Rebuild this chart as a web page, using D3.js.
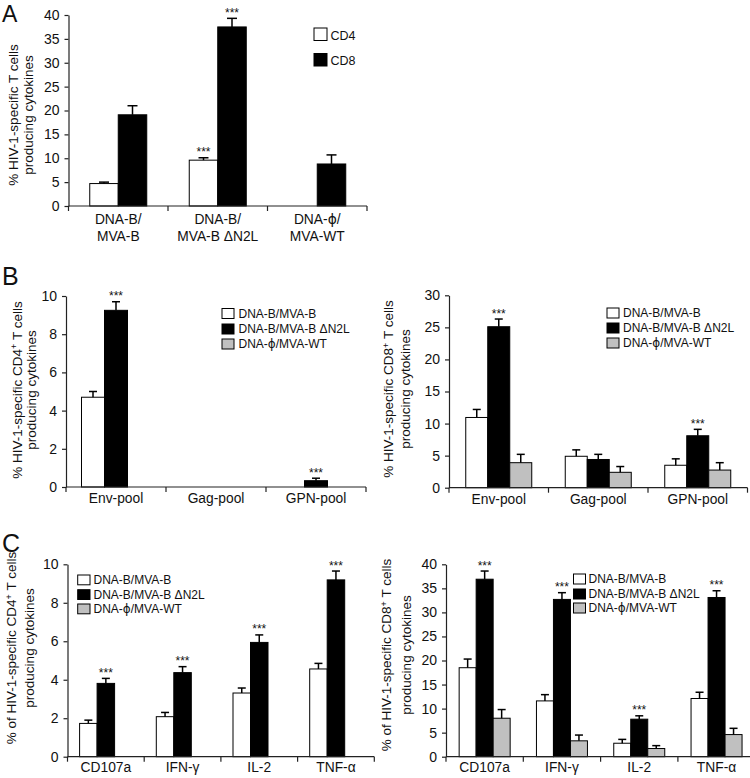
<!DOCTYPE html>
<html><head><meta charset="utf-8">
<script src="https://cdn.jsdelivr.net/npm/d3@7"></script>
<style>
body{margin:0;background:#fff}
svg{display:block}
text{font-family:"Liberation Sans",Arial,Helvetica,sans-serif;fill:#111}
tspan.phi{font-family:"DejaVu Sans",sans-serif}
</style>
</head><body>
<svg id="chart" width="750" height="778"></svg>
<script>
// ---------------- DATA ----------------
const seriesA = ["CD4", "CD8"];
const series3 = ["DNA-B/MVA-B", "DNA-B/MVA-B \u0394N2L", "DNA-\u03d5/MVA-WT"];

// Panel A
const catsA = [["DNA-B/", "MVA-B"], ["DNA-B/", "MVA-B \u0394N2L"], ["DNA-\u03d5/", "MVA-WT"]];
const aCD4 = [4.7, 9.6, null];
const aCD4Err = [0.3, 0.5, null];
const aCD8 = [19.1, 37.5, 8.8];
const aCD8Err = [1.9, 1.8, 1.9];
const aTicks = [0, 5, 10, 15, 20, 25, 30, 35, 40];
const aStars = [[0, 1], [1, 1]];

// Panel B
const catsB = [["Env-pool"], ["Gag-pool"], ["GPN-pool"]];
const bL1 = [4.7, null, null];   const bL1Err = [0.3, null, null];
const bL2 = [9.25, null, 0.33];  const bL2Err = [0.45, null, 0.13];
const bL3 = [null, null, null];  const bL3Err = [null, null, null];
const bLTicks = [0, 2, 4, 6, 8, 10];
const bLStars = [[1, 0], [1, 2]];

const bR1 = [10.95, 4.9, 3.5];   const bR1Err = [1.25, 1.0, 1.0];
const bR2 = [25.1, 4.4, 8.1];    const bR2Err = [1.2, 0.8, 1.0];
const bR3 = [3.9, 2.4, 2.75];    const bR3Err = [1.3, 0.9, 1.15];
const bRTicks = [0, 5, 10, 15, 20, 25, 30];
const bRStars = [[1, 0], [1, 2]];

// Panel C
const catsC = [["CD107a"], ["IFN-\u03b3"], ["IL-2"], ["TNF-\u03b1"]];
const cL1 = [1.73, 2.08, 3.31, 4.56];  const cL1Err = [0.17, 0.22, 0.26, 0.29];
const cL2 = [3.81, 4.37, 5.94, 9.19];  const cL2Err = [0.26, 0.31, 0.39, 0.46];
const cL3 = [null, null, null, null];  const cL3Err = [null, null, null, null];
const cLTicks = [0, 2, 4, 6, 8, 10];
const cLStars = [[1, 0], [1, 1], [1, 2], [1, 3]];

const cR1 = [18.5, 11.6, 2.8, 12.1];   const cR1Err = [1.8, 1.3, 0.8, 1.3];
const cR2 = [36.9, 32.7, 7.8, 33.1];   const cR2Err = [1.7, 1.4, 0.7, 1.4];
const cR3 = [8.0, 3.3, 1.7, 4.6];      const cR3Err = [1.8, 1.2, 0.6, 1.3];
const cRTicks = [0, 5, 10, 15, 20, 25, 30, 35, 40];
const cRStars = [[1, 0], [1, 1], [1, 2], [1, 3]];

const fills2 = ["#ffffff", "#000000"];
const fills3 = ["#ffffff", "#000000", "#c0c0c0"];

// ---------------- DRAW ----------------
const svg = d3.select("#chart");

// write a string into a text/tspan, rendering the phi glyph with DejaVu Sans
function writeText(sel, str) {
  const parts = str.split("\u03d5");
  parts.forEach((p, i) => {
    if (i > 0) sel.append("tspan").attr("class", "phi").text("\u03d5");
    if (p.length) sel.append("tspan").text(p);
  });
}

function drawPanel(cfg) {
  const g = svg.append("g");
  const x = d3.scaleBand().domain(cfg.cats.map((d, i) => i)).range([cfg.x0, cfg.x1]).padding(0);
  const y = d3.scaleLinear().domain([0, d3.max(cfg.ticks)]).range([cfg.yb, cfg.yt]);
  const n = cfg.values.length;
  const bw = cfg.barW;
  const barX = (s, c) => x(c) + x.bandwidth() / 2 + (s - n / 2) * bw;

  // bars
  const bars = [];
  cfg.values.forEach((vals, s) => vals.forEach((v, c) => {
    if (v != null) bars.push({ s, c, v, e: cfg.errs[s][c] });
  }));
  g.selectAll("rect.bar").data(bars).enter().append("rect")
    .attr("x", d => barX(d.s, d.c)).attr("width", bw)
    .attr("y", d => y(d.v)).attr("height", d => y(0) - y(d.v))
    .attr("fill", d => cfg.fills[d.s]).attr("stroke", "#000").attr("stroke-width", 1);

  // error bars (upper only)
  const eb = g.selectAll("g.err").data(bars.filter(d => d.e != null)).enter().append("g");
  eb.append("line")
    .attr("x1", d => barX(d.s, d.c) + bw / 2).attr("x2", d => barX(d.s, d.c) + bw / 2)
    .attr("y1", d => y(d.v)).attr("y2", d => y(d.v + d.e))
    .attr("stroke", "#000").attr("stroke-width", 1.5);
  eb.append("line")
    .attr("x1", d => barX(d.s, d.c) + bw / 2 - cfg.capW / 2).attr("x2", d => barX(d.s, d.c) + bw / 2 + cfg.capW / 2)
    .attr("y1", d => y(d.v + d.e)).attr("y2", d => y(d.v + d.e))
    .attr("stroke", "#000").attr("stroke-width", 1.5);

  // stars
  g.selectAll("text.star").data(cfg.stars).enter().append("text")
    .attr("x", d => barX(d[0], d[1]) + bw / 2)
    .attr("y", d => y(cfg.values[d[0]][d[1]] + cfg.errs[d[0]][d[1]]) - 1.5)
    .attr("text-anchor", "middle").style("font-size", "12px").text("***");

  // y axis
  const ya = g.append("g").attr("transform", `translate(${cfg.x0},0)`)
    .call(d3.axisLeft(y).tickValues(cfg.ticks).tickSize(4).tickSizeOuter(0).tickPadding(5).tickFormat(d3.format("d")));
  ya.select(".domain").attr("stroke", "#222").attr("stroke-width", 1.2);
  ya.selectAll(".tick line").attr("stroke", "#222").attr("stroke-width", 1.2);
  ya.selectAll(".tick text").style("font-size", "14px").style("font-family", '"Liberation Sans",Arial,sans-serif').attr("fill", "#111");

  // x axis
  g.append("line").attr("x1", cfg.x0).attr("x2", cfg.x1).attr("y1", y(0)).attr("y2", y(0))
    .attr("stroke", "#222").attr("stroke-width", 1.2);
  const bounds = cfg.cats.map((d, i) => x(i)).concat([x(cfg.cats.length - 1) + x.bandwidth()]);
  g.selectAll("line.xt").data(bounds).enter().append("line")
    .attr("x1", d => d).attr("x2", d => d).attr("y1", y(0)).attr("y2", y(0) + 5)
    .attr("stroke", "#222").attr("stroke-width", 1.2);
  const cl = g.selectAll("text.cat").data(cfg.cats).enter().append("text")
    .attr("text-anchor", "middle").style("font-size", "13.8px")
    .attr("transform", (d, i) => `translate(${x(i) + x.bandwidth() / 2},${y(0) + cfg.catDy})`);
  cl.each(function (lines) {
    const txt = d3.select(this);
    lines.forEach((line, i) => {
      const ln = txt.append("tspan").attr("x", 0).attr("y", i * 16.7);
      writeText(ln, line);
    });
  });

  // y title
  const t = g.append("text").attr("text-anchor", "middle").style("font-size", "13.5px")
    .attr("transform", `translate(${cfg.tx1},${cfg.ty}) rotate(-90)`);
  cfg.title1.forEach(p => {
    const ts = t.append("tspan").text(p.t);
    if (p.sup) ts.attr("dy", "-4.5").style("font-size", "9px");
    if (p.after) ts.attr("dy", "4.5");
  });
  g.append("text").attr("text-anchor", "middle").style("font-size", "13.5px")
    .attr("transform", `translate(${cfg.tx2},${cfg.ty}) rotate(-90)`).text(cfg.title2);

  // legend
  const lg = g.selectAll("g.leg").data(cfg.legNames).enter().append("g")
    .attr("transform", (d, i) => `translate(${cfg.legX},${cfg.legY[i]})`);
  lg.append("rect").attr("width", cfg.legW).attr("height", cfg.legH)
    .attr("fill", (d, i) => cfg.fills[i]).attr("stroke", "#000").attr("stroke-width", 1);
  lg.append("text").attr("x", cfg.legW + cfg.legGap).attr("y", cfg.legH - 1)
    .style("font-size", cfg.legFont).each(function (d) { writeText(d3.select(this), d); });
}

function titleCD(n, prefix) {
  return [{ t: prefix + "HIV-1-specific CD" + n }, { t: "+", sup: true }, { t: " T cells", after: true }];
}

drawPanel({
  cats: catsA, values: [aCD4, aCD8], errs: [aCD4Err, aCD8Err], fills: fills2, stars: aStars,
  ticks: aTicks, x0: 68.5, x1: 367, yb: 206, yt: 15, barW: 28.5, capW: 10, catDy: 18,
  title1: [{ t: "% HIV-1-specific T cells" }], title2: "producing cytokines", tx1: 18, tx2: 33, ty: 115,
  legNames: seriesA, legX: 314, legY: [28, 53.5], legW: 13, legH: 12.5, legGap: 3.5, legFont: "12.5px"
});

drawPanel({
  cats: catsB, values: [bL1, bL2, bL3], errs: [bL1Err, bL2Err, bL3Err], fills: fills3, stars: bLStars,
  ticks: bLTicks, x0: 66, x1: 366, yb: 487, yt: 296, barW: 23, capW: 8, catDy: 16,
  title1: titleCD(4, "% "), title2: "producing cytokines", tx1: 21.5, tx2: 36, ty: 390,
  legNames: series3, legX: 222, legY: [308.5, 324, 339], legW: 12, legH: 10, legGap: 4.5, legFont: "12px"
});

drawPanel({
  cats: catsB, values: [bR1, bR2, bR3], errs: [bR1Err, bR2Err, bR3Err], fills: fills3, stars: bRStars,
  ticks: bRTicks, x0: 449, x1: 747.5, yb: 487.7, yt: 295.3, barW: 22, capW: 8, catDy: 16,
  title1: titleCD(8, "% "), title2: "producing cytokines", tx1: 393, tx2: 410, ty: 389,
  legNames: series3, legX: 607, legY: [308, 323, 338], legW: 12, legH: 10, legGap: 4, legFont: "12px"
});

drawPanel({
  cats: catsC, values: [cL1, cL2, cL3], errs: [cL1Err, cL2Err, cL3Err], fills: fills3, stars: cLStars,
  ticks: cLTicks, x0: 67.5, x1: 374.3, yb: 756.7, yt: 564.3, barW: 17.5, capW: 8, catDy: 15.5,
  title1: titleCD(4, "% of "), title2: "producing cytokines", tx1: 16, tx2: 34, ty: 648,
  legNames: series3, legX: 77.7, legY: [575, 589.7, 604], legW: 12.3, legH: 9.8, legGap: 3.5, legFont: "12px"
});

drawPanel({
  cats: catsC, values: [cR1, cR2, cR3], errs: [cR1Err, cR2Err, cR3Err], fills: fills3, stars: cRStars,
  ticks: cRTicks, x0: 446, x1: 755.2, yb: 756.7, yt: 564.3, barW: 17, capW: 8, catDy: 15.5,
  title1: titleCD(8, "% of "), title2: "producing cytokines", tx1: 391, tx2: 411, ty: 655,
  legNames: series3, legX: 573.5, legY: [574, 589, 603], legW: 12, legH: 10, legGap: 3, legFont: "12px"
});

// panel letters
[["A", 2, 21.5, "23px"], ["B", 2, 285, "25px"], ["C", 2, 552, "25px"]].forEach(([l, lx, ly, fs]) => {
  svg.append("text").attr("x", lx).attr("y", ly).style("font-size", fs).text(l);
});
</script>
</body></html>
